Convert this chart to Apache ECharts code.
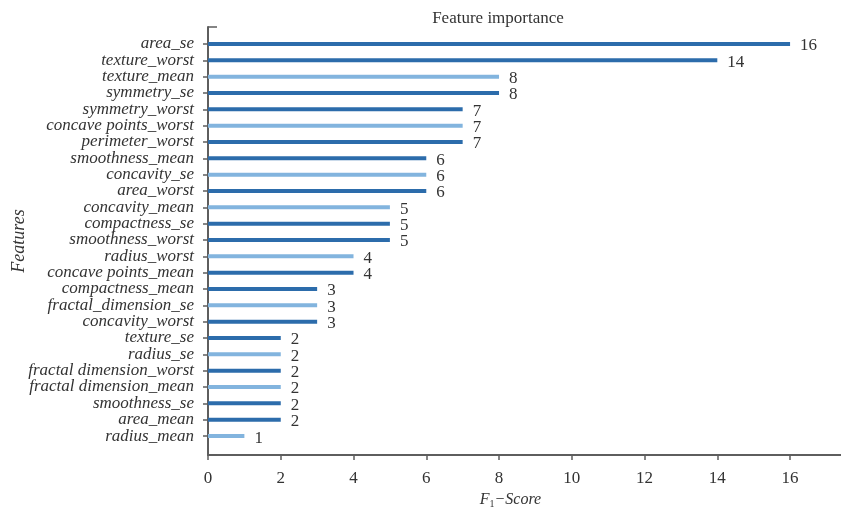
<!DOCTYPE html>
<html>
<head>
<meta charset="utf-8">
<script src="https://cdn.jsdelivr.net/npm/echarts@6/dist/echarts.min.js"></script>
<style>
  html, body { margin: 0; padding: 0; background: #fff; }
  #chart { width: 841px; height: 508px; }
</style>
</head>
<body>
<div id="chart"></div>
<script>
// Feature names, top to bottom
const features = [
  'area_se', 'texture_worst', 'texture_mean', 'symmetry_se', 'symmetry_worst',
  'concave points_worst', 'perimeter_worst', 'smoothness_mean', 'concavity_se',
  'area_worst', 'concavity_mean', 'compactness_se', 'smoothness_worst',
  'radius_worst', 'concave points_mean', 'compactness_mean', 'fractal_dimension_se',
  'concavity_worst', 'texture_se', 'radius_se', 'fractal dimension_worst',
  'fractal dimension_mean', 'smoothness_se', 'area_mean', 'radius_mean'
];
// F1 scores per feature
const scores = [16, 14, 8, 8, 7, 7, 7, 6, 6, 6, 5, 5, 5, 4, 4, 3, 3, 3, 2, 2, 2, 2, 2, 2, 1];
// Bar shade per feature: 1 = light, 0 = dark
const shade = [0, 0, 1, 0, 0, 1, 0, 0, 1, 0, 1, 0, 0, 1, 0, 0, 1, 0, 0, 1, 0, 1, 0, 0, 1];
// X axis ticks
const xTicks = { min: 0, max: 17.4, interval: 2 };

const DARK = '#2c6cab';
const LIGHT = '#82b4de';
const SERIF = '"Liberation Serif", "DejaVu Serif", serif';
const AXIS = '#5e5e5e';

const chart = echarts.init(document.getElementById('chart'), null, { renderer: 'canvas' });

chart.setOption({
  animation: false,
  backgroundColor: '#fff',
  title: {
    text: 'Feature importance',
    left: 493,
    top: 5,
    textAlign: 'center',
    textStyle: { fontFamily: SERIF, fontWeight: 'normal', fontSize: 17, color: '#333' }
  },
  grid: [
    // frame with axis lines
    { left: 208, right: 0, top: 27, bottom: 53, outerBoundsMode: 'none', containLabel: false },
    // bar bands
    { left: 208, right: 0, top: 35.8, bottom: 63.8, outerBoundsMode: 'none', containLabel: false }
  ],
  xAxis: [
    {
      gridIndex: 0, type: 'value',
      min: xTicks.min, max: xTicks.max, interval: xTicks.interval,
      axisLine: { show: true, lineStyle: { color: AXIS, width: 2 } },
      axisTick: { show: true, length: 5, lineStyle: { color: AXIS, width: 1.5 } },
      splitLine: { show: false },
      axisLabel: {
        margin: 15, fontFamily: SERIF, fontSize: 17, color: '#333',
        showMaxLabel: false
      },
      name: '{i|F}{s|1}{i|−Score}',
      nameLocation: 'middle',
      nameGap: 36,
      nameTextStyle: {
        padding: [0, 28, 0, 0],
        rich: {
          i: { fontFamily: SERIF, fontStyle: 'italic', fontSize: 16, color: '#333' },
          s: { fontFamily: SERIF, fontSize: 10, color: '#333', verticalAlign: 'bottom', padding: [8, 0, 0, 0] }
        }
      }
    },
    {
      gridIndex: 1, type: 'value',
      min: xTicks.min, max: xTicks.max, interval: xTicks.interval,
      show: false
    }
  ],
  yAxis: [
    {
      gridIndex: 0, type: 'value', min: 0, max: 1, interval: 1,
      axisLine: { show: true, lineStyle: { color: AXIS, width: 2 } },
      axisTick: { show: true, inside: true, length: 9, lineStyle: { color: AXIS, width: 1.5 } },
      axisLabel: { show: false },
      splitLine: { show: false },
      name: 'Features',
      nameLocation: 'middle',
      nameGap: 180,
      nameTextStyle: { fontFamily: SERIF, fontStyle: 'italic', fontSize: 18, color: '#333' }
    },
    {
      gridIndex: 1, type: 'category', inverse: true,
      data: features,
      axisLine: { show: false },
      axisTick: { show: true, alignWithLabel: true, length: 5, lineStyle: { color: AXIS, width: 1.5 } },
      axisLabel: {
        interval: 0,
        margin: 14, fontFamily: SERIF, fontStyle: 'italic', fontSize: 17, color: '#333'
      },
      splitLine: { show: false }
    }
  ],
  series: [{
    type: 'bar',
    xAxisIndex: 1,
    yAxisIndex: 1,
    barWidth: 4,
    data: scores.map((v, i) => ({
      value: v,
      itemStyle: { color: shade[i] ? LIGHT : DARK }
    })),
    label: {
      show: true,
      position: 'right',
      distance: 10,
      offset: [0, 2],
      fontFamily: SERIF,
      fontSize: 17,
      color: '#333'
    }
  }]
});
</script>
</body>
</html>
